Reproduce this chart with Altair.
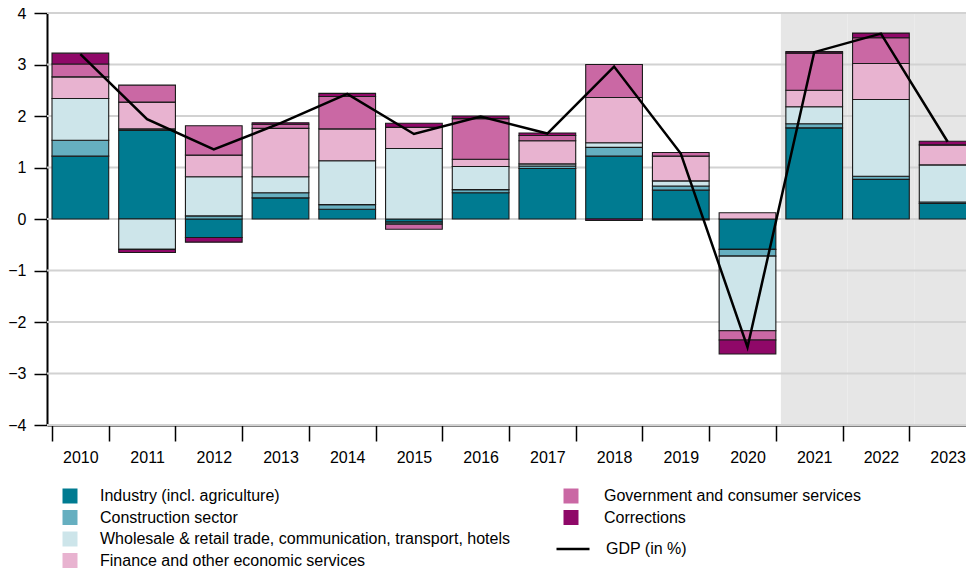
import altair as alt
import pandas as pd

FONT = "Liberation Sans"

years = [str(y) for y in range(2010, 2024)]
categories = [
    "Industry (incl. agriculture)",
    "Construction sector",
    "Wholesale & retail trade, communication, transport, hotels",
    "Finance and other economic services",
    "Government and consumer services",
    "Corrections",
]
colors = ["#007b91", "#66afc0", "#cde5ea", "#e8b3d0", "#ca68a4", "#8f0868"]

industry     = [1.22, 1.72, -0.36, 0.41, 0.19, -0.06, 0.51, 0.98, 1.22, 0.56, -0.59, 1.77, 0.77, 0.30]
construction = [0.31, 0.03, 0.06, 0.10, 0.09, -0.04, 0.06, 0.05, 0.17, 0.08, -0.13, 0.08, 0.06, 0.03]
wholesale    = [0.81, -0.59, 0.76, 0.31, 0.85, 1.37, 0.45, 0.04, 0.09, 0.10, -1.45, 0.33, 1.49, 0.72]
finance      = [0.42, 0.52, 0.42, 0.94, 0.62, 0.41, 0.14, 0.45, 0.88, 0.48, 0.12, 0.32, 0.70, 0.39]
government   = [0.25, 0.33, 0.57, 0.08, 0.63, -0.10, 0.79, 0.10, 0.64, 0.07, -0.18, 0.72, 0.50, 0.00]
corrections  = [0.21, -0.06, -0.09, 0.03, 0.06, 0.08, 0.05, 0.05, -0.03, -0.02, -0.27, 0.03, 0.09, 0.07]
gdp          = [3.20, 1.94, 1.35, 1.86, 2.43, 1.65, 1.99, 1.66, 2.96, 1.27, -2.49, 3.24, 3.60, 1.50]

shaded_years = ["2021", "2022", "2023"]
y_ticks = [-4, -3, -2, -1, 0, 1, 2, 3, 4]
gdp_label = "GDP (in %)"

series = [industry, construction, wholesale, finance, government, corrections]
rows = []
for i, yr in enumerate(years):
    for k, (cat, vals) in enumerate(zip(categories, series)):
        rows.append({"year": yr, "sector": cat, "order": k, "value": vals[i]})
df = pd.DataFrame(rows)
gdp_df = pd.DataFrame({"year": years, "gdp": gdp, "series": [gdp_label] * len(years)})
shade_df = pd.DataFrame({"year": shaded_years})
grid_df = pd.DataFrame({"v": y_ticks})

xscale = alt.Scale(domain=years, paddingInner=0.15, paddingOuter=0.075)
yscale = alt.Scale(domain=[-4, 4], nice=False, zero=False)

xaxis = alt.Axis(
    title=None, tickBand="extent", tickSize=16, labelPadding=8, labelAngle=0,
    domainColor="black", domainWidth=2, tickColor="black", tickWidth=1.5,
    labelFontSize=16, labelFont=FONT, labelColor="black", grid=False,
)
yaxis = alt.Axis(
    title=None, values=y_ticks, tickSize=13, labelPadding=8,
    domainColor="black", domainWidth=2, tickColor="black", tickWidth=1.5,
    labelFontSize=16, labelFont=FONT, labelColor="black", grid=False,
    labelExpr="replace(datum.label, '-', '\u2212')",
)

X = alt.X("year:N", scale=xscale, axis=xaxis, sort=years)

shade = alt.Chart(shade_df).mark_bar(
    color="#e6e6e6", width=alt.RelativeBandSize(1 / 0.85)
).encode(
    x=X,
    y=alt.Y(datum=4, scale=yscale, axis=yaxis),
    y2=alt.datum(-4),
)

grid = alt.Chart(grid_df).mark_rule(color="#d2d2d2", strokeWidth=2).encode(
    y=alt.Y("v:Q", scale=yscale, axis=yaxis)
)

base = alt.Chart(df).transform_stack(
    stack="value", groupby=["year"],
    sort=[alt.SortField(field="order", order="ascending")],
    as_=["y0", "y1"],
)

leg_common = dict(
    title=None, orient="none", padding=0, labelFont=FONT, labelFontSize=16,
    labelColor="black", symbolType="square", symbolSize=225,
    symbolStrokeWidth=0, rowPadding=5.5, labelLimit=600,
)

barsA = base.transform_filter(
    alt.FieldOneOfPredicate(field="sector", oneOf=categories[:4])
).mark_bar(stroke="#1a1a1a", strokeWidth=1.1).encode(
    x=X,
    y=alt.Y("y0:Q", scale=yscale, axis=yaxis),
    y2="y1:Q",
    fill=alt.Fill(
        "sector:N",
        scale=alt.Scale(domain=categories[:4], range=colors[:4]),
        legend=alt.Legend(legendX=15, legendY=475, labelOffset=22, **leg_common),
    ),
)

barsB = base.transform_filter(
    alt.FieldOneOfPredicate(field="sector", oneOf=categories[4:])
).mark_bar(stroke="#1a1a1a", strokeWidth=1.1).encode(
    x=X,
    y=alt.Y("y0:Q", scale=yscale, axis=yaxis),
    y2="y1:Q",
    fill=alt.Fill(
        "sector:N",
        scale=alt.Scale(domain=categories[4:], range=colors[4:]),
        legend=alt.Legend(legendX=516, legendY=475, labelOffset=25, **leg_common),
    ),
)

line = alt.Chart(gdp_df).mark_line(strokeWidth=2.5).encode(
    x=X,
    y=alt.Y("gdp:Q", scale=yscale, axis=yaxis),
    stroke=alt.Stroke(
        "series:N",
        scale=alt.Scale(domain=[gdp_label], range=["black"]),
        legend=alt.Legend(
            title=None, orient="none", padding=0, labelFont=FONT, labelFontSize=16,
            labelColor="black", symbolType="stroke", symbolSize=1089,
            symbolStrokeWidth=2.5, symbolStrokeColor="black",
            legendX=508, legendY=518, labelOffset=15,
        ),
    ),
)

chart = alt.layer(shade, grid, barsA, barsB, line).resolve_scale(
    fill="independent"
).properties(
    width=934,
    height=412,
    autosize="none",
    padding={"left": 39, "top": 5, "right": -15, "bottom": 160},
    title=alt.TitleParams(
        "(in percentage points of GDP)", anchor="start", frame="group",
        fontSize=16, fontWeight="normal", font=FONT, color="black", offset=-3,
    ),
).configure_view(stroke=None)

chart.save("out.html", embed_options={"renderer": "svg", "actions": False})
